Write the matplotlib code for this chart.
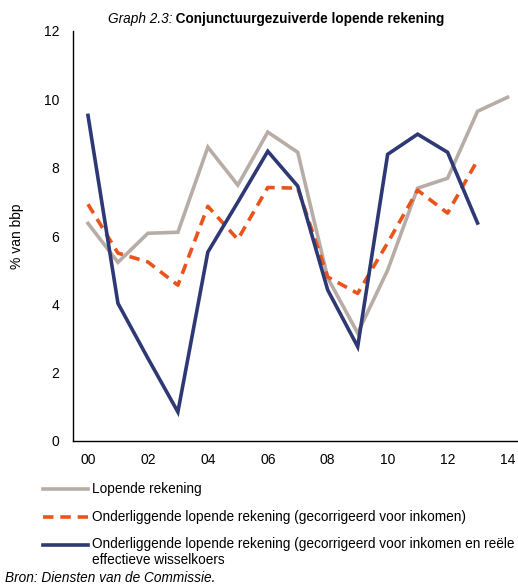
import numpy as np
import matplotlib
matplotlib.use("Agg")
import matplotlib.pyplot as plt
from matplotlib.lines import Line2D

plt.rcParams['font.family'] = ['Liberation Sans', 'DejaVu Sans']

years = np.arange(0, 15)
year_labels = ["00", "02", "04", "06", "08", "10", "12", "14"]

lopende = [6.37, 5.23, 6.08, 6.11, 8.6, 7.49, 9.04, 8.45, 4.77, 3.16, 5.0, 7.4, 7.69, 9.65, 10.06]
onderl_inkomen = [6.93, 5.5, 5.24, 4.56, 6.87, 5.9, 7.42, 7.4, 4.8, 4.32, 5.8, 7.34, 6.67, 8.22]
onderl_wisselkoers = [9.53, 4.03, 2.42, 0.85, 5.53, 6.99, 8.48, 7.46, 4.42, 2.76, 8.39, 8.98, 8.45, 6.38]

labels = [
    "Lopende rekening",
    "Onderliggende lopende rekening (gecorrigeerd voor inkomen)",
    "Onderliggende lopende rekening (gecorrigeerd voor inkomen en reële\neffectieve wisselkoers",
]

c_grey = "#B8ADA6"
c_orange = "#E9541C"
c_navy = "#2E3875"

fig = plt.figure(figsize=(5.18, 5.87), dpi=100)
ax = fig.add_axes([73 / 518, 1 - 441 / 587, 1 - 73 / 518, (441 - 31) / 587])

ax.plot(years, lopende, color=c_grey, lw=2.6, solid_joinstyle='miter')
ax.plot(years[:len(onderl_inkomen)], onderl_inkomen, color=c_orange, lw=2.6,
        dashes=(2.9, 1.9), dash_capstyle='butt')
ax.plot(years[:len(onderl_wisselkoers)], onderl_wisselkoers, color=c_navy, lw=2.6,
        solid_joinstyle='miter')

ax.set_xlim(-0.5, 14.35)
ax.set_ylim(0, 12)
ax.set_xticks(np.arange(0, 15, 2))
ax.set_xticklabels(year_labels)
ax.set_yticks(np.arange(0, 13, 2))
ax.tick_params(length=0, labelsize=10, pad=9)
ax.tick_params(axis='y', pad=10)
for s in ["top", "right"]:
    ax.spines[s].set_visible(False)
ax.spines["left"].set_linewidth(1.0)
ax.spines["bottom"].set_linewidth(1.0)
ax.set_ylabel("% van bbp", fontsize=10, labelpad=14)

# title: italic prefix + bold text
t1 = fig.text(108 / 518, 1 - 23 / 587, "Graph 2.3:", fontsize=9.8, style='italic', va='baseline')
ax.annotate(" Conjunctuurgezuiverde lopende rekening", xy=(1, 0), xycoords=t1,
            fontsize=9.8, fontweight='bold', va='bottom')

# legend drawn by hand
styles = [dict(color=c_grey), dict(color=c_orange, dashes=(2.9, 1.9)), dict(color=c_navy)]
rows = [489, 517, 545]
for lab, st, yp in zip(labels, styles, rows):
    yf = 1 - yp / 587
    fig.add_artist(Line2D([43 / 518, 88 / 518], [yf, yf], lw=2.6, transform=fig.transFigure, **st))
    multi = "\n" in lab
    ty = yf + (8 / 587 if multi else 0)
    fig.text(92 / 518, ty, lab, fontsize=9.8, va='top' if multi else 'center',
             linespacing=1.2)

fig.text(5 / 518, 1 - 578 / 587, "Bron: Diensten van de Commissie.", fontsize=9.8,
         style='italic', va='center')

fig.savefig("out.png", dpi=100)
